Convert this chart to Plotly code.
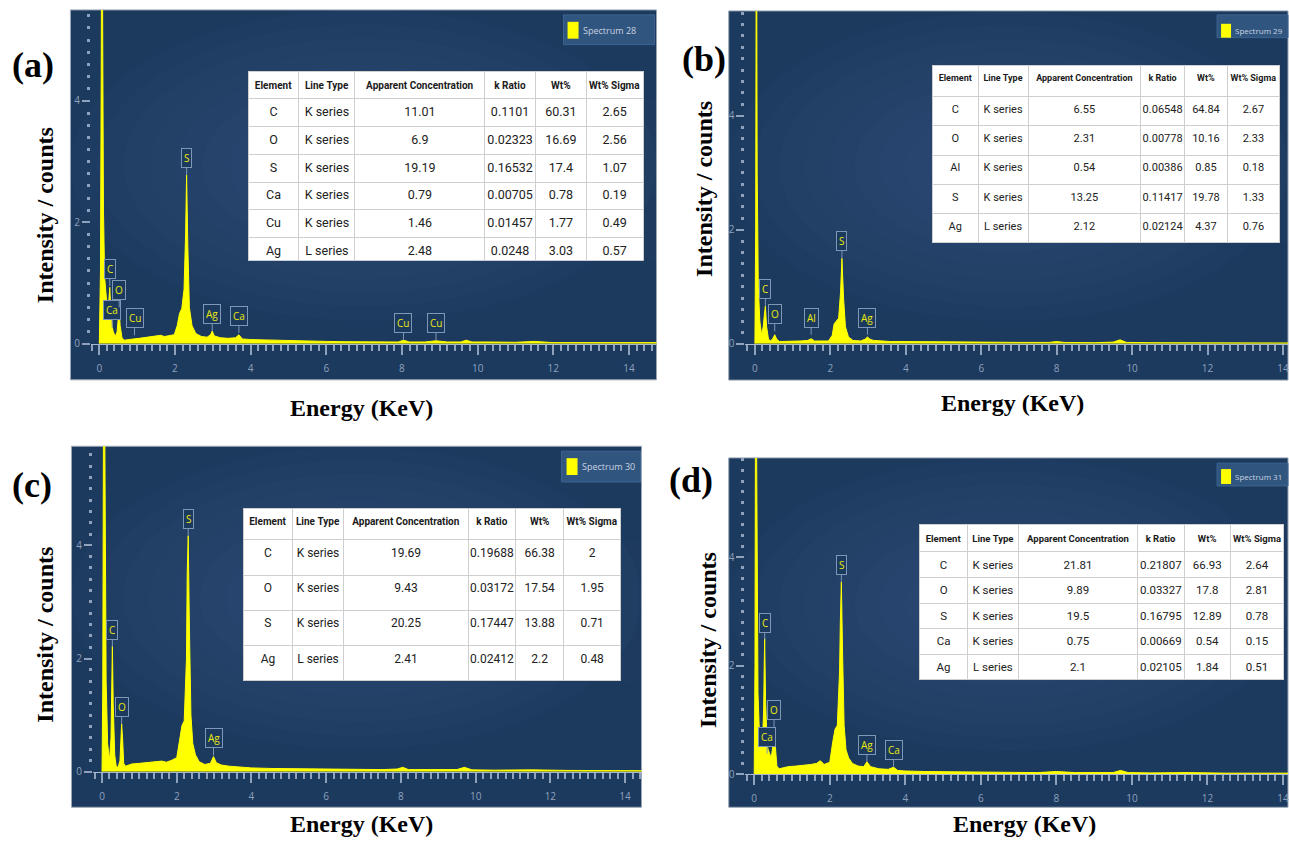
import plotly.graph_objects as go

W, H = 1289, 845

# ------------------------------------------------------------------ data
energy_a = [0.00, 0.03, 0.05, 0.07, 0.09, 0.11, 0.14, 0.18, 0.22, 0.25, 0.277, 0.30, 0.32, 0.341, 0.37, 0.42, 0.47, 0.50, 0.525, 0.55,
            0.60, 0.66, 0.75, 0.9, 1.05, 1.2, 1.35, 1.5, 1.62, 1.72, 1.85, 1.98, 2.06, 2.12, 2.18, 2.24, 2.28, 2.307, 2.34, 2.38,
            2.45, 2.55, 2.7, 2.85, 2.94, 2.984, 3.04, 3.2, 3.4, 3.6, 3.69, 3.78, 4.0, 4.5, 5.0, 5.5, 6.0, 6.5, 7.0, 7.5,
            7.9, 8.04, 8.2, 8.6, 8.9, 9.2, 9.55, 9.7, 9.85, 10.3, 11.0, 11.5, 12.0, 13.0, 14.0, 14.8]
counts_a = [0.0, 1.2, 4.5, 9.0, 5.0, 2.2, 1.1, 0.75, 0.5, 0.7, 0.93, 0.6, 0.3, 0.27, 0.2, 0.12, 0.2, 0.45, 0.6, 0.3,
            0.1, 0.06, 0.07, 0.08, 0.09, 0.1, 0.11, 0.13, 0.14, 0.12, 0.13, 0.15, 0.3, 0.5, 0.58, 0.9, 1.8, 2.78, 1.6, 0.6,
            0.3, 0.17, 0.12, 0.11, 0.15, 0.21, 0.13, 0.1, 0.09, 0.1, 0.15, 0.08, 0.07, 0.06, 0.05, 0.045, 0.04, 0.035, 0.03, 0.03,
            0.03, 0.06, 0.03, 0.03, 0.05, 0.03, 0.03, 0.06, 0.03, 0.03, 0.025, 0.04, 0.02, 0.02, 0.02, 0.02]

energy_b = [0.00, 0.02, 0.04, 0.06, 0.09, 0.13, 0.18, 0.22, 0.25, 0.277, 0.31, 0.36, 0.42, 0.48, 0.525, 0.58, 0.65, 0.8, 1.0, 1.2,
            1.4, 1.49, 1.58, 1.75, 1.95, 2.05, 2.1, 2.16, 2.22, 2.27, 2.307, 2.35, 2.4, 2.48, 2.6, 2.8, 2.92, 2.984, 3.05, 3.15,
            3.3, 3.6, 4.0, 4.5, 5.0, 6.0, 7.0, 7.8, 8.0, 8.2, 9.0, 9.5, 9.68, 9.85, 10.5, 11.5, 12.5, 14.2]
counts_b = [0.0, 2.0, 9.0, 3.0, 1.0, 0.4, 0.15, 0.3, 0.5, 0.66, 0.3, 0.08, 0.05, 0.1, 0.16, 0.08, 0.04, 0.04, 0.05, 0.05,
            0.06, 0.09, 0.05, 0.05, 0.05, 0.15, 0.35, 0.4, 0.45, 0.9, 1.5, 0.8, 0.3, 0.12, 0.06, 0.05, 0.08, 0.12, 0.08, 0.06,
            0.05, 0.04, 0.04, 0.035, 0.03, 0.03, 0.025, 0.025, 0.04, 0.025, 0.02, 0.03, 0.07, 0.025, 0.02, 0.02, 0.015, 0.015]

energy_c = [0.00, 0.02, 0.05, 0.08, 0.11, 0.15, 0.2, 0.24, 0.26, 0.277, 0.30, 0.34, 0.38, 0.43, 0.48, 0.51, 0.525, 0.55, 0.58, 0.63,
            0.7, 0.8, 1.0, 1.2, 1.4, 1.6, 1.72, 1.85, 2.0, 2.08, 2.14, 2.2, 2.26, 2.28, 2.307, 2.34, 2.38, 2.43, 2.5, 2.6,
            2.75, 2.9, 2.984, 3.06, 3.2, 3.4, 3.7, 4.0, 4.5, 5.0, 5.5, 6.0, 6.5, 7.0, 7.5, 7.9, 8.05, 8.2, 9.0, 9.5,
            9.7, 9.9, 10.5, 11.5, 12.5, 13.5, 14.6]
counts_c = [0.0, 1.5, 9.0, 5.0, 1.6, 0.5, 0.2, 0.6, 1.6, 2.22, 1.2, 0.3, 0.1, 0.08, 0.2, 0.5, 0.85, 0.6, 0.15, 0.1,
            0.12, 0.14, 0.15, 0.16, 0.17, 0.19, 0.17, 0.2, 0.25, 0.6, 0.82, 0.9, 2.0, 3.5, 4.17, 2.5, 1.0, 0.5, 0.3, 0.18,
            0.13, 0.15, 0.27, 0.16, 0.12, 0.1, 0.08, 0.07, 0.06, 0.055, 0.05, 0.045, 0.04, 0.04, 0.04, 0.05, 0.08, 0.04, 0.035, 0.04,
            0.08, 0.035, 0.03, 0.035, 0.025, 0.02, 0.02]

energy_d = [0.00, 0.02, 0.04, 0.07, 0.1, 0.14, 0.18, 0.22, 0.25, 0.265, 0.277, 0.30, 0.341, 0.37, 0.41, 0.45, 0.49, 0.51, 0.525, 0.55,
            0.6, 0.66, 0.75, 0.9, 1.1, 1.3, 1.5, 1.65, 1.75, 1.85, 2.0, 2.08, 2.14, 2.2, 2.26, 2.28, 2.307, 2.34, 2.38, 2.43,
            2.5, 2.6, 2.75, 2.9, 2.984, 3.08, 3.3, 3.55, 3.69, 3.8, 4.0, 4.5, 5.0, 5.5, 6.0, 6.5, 7.0, 7.5, 8.0, 8.5,
            9.0, 9.5, 9.7, 9.9, 10.5, 11.5, 12.5, 14.2]
counts_d = [0.0, 2.0, 9.0, 4.0, 1.5, 0.7, 0.55, 0.6, 1.2, 2.0, 2.5, 1.4, 0.55, 0.45, 0.35, 0.3, 0.5, 0.8, 0.86, 0.6,
            0.15, 0.1, 0.12, 0.14, 0.15, 0.16, 0.18, 0.2, 0.25, 0.18, 0.22, 0.6, 0.83, 0.9, 1.9, 2.8, 3.54, 2.2, 0.9, 0.45,
            0.3, 0.2, 0.15, 0.14, 0.23, 0.14, 0.1, 0.09, 0.13, 0.07, 0.06, 0.05, 0.045, 0.04, 0.04, 0.035, 0.03, 0.03, 0.05, 0.03,
            0.03, 0.03, 0.07, 0.03, 0.025, 0.03, 0.02, 0.02]

spectrum_names = ["Spectrum 28", "Spectrum 29", "Spectrum 30", "Spectrum 31"]
panel_letters = ["(a)", "(b)", "(c)", "(d)"]

# peak markers: element, energy (keV), intensity at marker tip
peak_el_a = ["C", "Ca", "O", "Cu", "S", "Ag", "Ca", "Cu", "Cu"]
peak_e_a = [0.277, 0.341, 0.525, 0.93, 2.307, 2.984, 3.69, 8.04, 8.9]
peak_i_a = [0.95, 0.27, 0.6, 0.14, 2.78, 0.21, 0.18, 0.06, 0.06]

peak_el_b = ["C", "O", "Al", "S", "Ag"]
peak_e_b = [0.277, 0.525, 1.49, 2.307, 2.984]
peak_i_b = [0.66, 0.22, 0.16, 1.5, 0.16]

peak_el_c = ["C", "O", "S", "Ag"]
peak_e_c = [0.277, 0.525, 2.307, 2.984]
peak_i_c = [2.21, 0.85, 4.17, 0.29]

peak_el_d = ["C", "Ca", "O", "S", "Ag", "Ca"]
peak_e_d = [0.277, 0.341, 0.525, 2.307, 2.984, 3.69]
peak_i_d = [2.48, 0.38, 0.87, 3.54, 0.23, 0.14]

table_header = ["Element", "Line Type", "Apparent Concentration", "k Ratio", "Wt%", "Wt% Sigma"]

elem_a = ["C", "O", "S", "Ca", "Cu", "Ag"]
line_a = ["K series", "K series", "K series", "K series", "K series", "L series"]
conc_a = ["11.01", "6.9", "19.19", "0.79", "1.46", "2.48"]
kratio_a = ["0.1101", "0.02323", "0.16532", "0.00705", "0.01457", "0.0248"]
wt_a = ["60.31", "16.69", "17.4", "0.78", "1.77", "3.03"]
sigma_a = ["2.65", "2.56", "1.07", "0.19", "0.49", "0.57"]

elem_b = ["C", "O", "Al", "S", "Ag"]
line_b = ["K series", "K series", "K series", "K series", "L series"]
conc_b = ["6.55", "2.31", "0.54", "13.25", "2.12"]
kratio_b = ["0.06548", "0.00778", "0.00386", "0.11417", "0.02124"]
wt_b = ["64.84", "10.16", "0.85", "19.78", "4.37"]
sigma_b = ["2.67", "2.33", "0.18", "1.33", "0.76"]

elem_c = ["C", "O", "S", "Ag"]
line_c = ["K series", "K series", "K series", "L series"]
conc_c = ["19.69", "9.43", "20.25", "2.41"]
kratio_c = ["0.19688", "0.03172", "0.17447", "0.02412"]
wt_c = ["66.38", "17.54", "13.88", "2.2"]
sigma_c = ["2", "1.95", "0.71", "0.48"]

elem_d = ["C", "O", "S", "Ca", "Ag"]
line_d = ["K series", "K series", "K series", "K series", "L series"]
conc_d = ["21.81", "9.89", "19.5", "0.75", "2.1"]
kratio_d = ["0.21807", "0.03327", "0.16795", "0.00669", "0.02105"]
wt_d = ["66.93", "17.8", "12.89", "0.54", "1.84"]
sigma_d = ["2.64", "2.81", "0.78", "0.15", "0.51"]

x_title = "Energy (KeV)"
y_title = "Intensity / counts"

# ------------------------------------------------------------------ layout geometry (pixels)
TABF = "Roboto, Liberation Sans, sans-serif"
SERIF = "Liberation Serif, Times New Roman, serif"
TICKF = "Open Sans, Noto Sans, sans-serif"

panels = [
    dict(energy=energy_a, counts=counts_a, el=peak_el_a, pe=peak_e_a, pi=peak_i_a,
         tab=[elem_a, line_a, conc_a, kratio_a, wt_a, sigma_a],
         rect=(70.5, 10, 657, 383), ylo=91, x0=99.4, ppk=37.86, y0=346.7, ppu=61.25,
         leg=(564, 15, 655, 45), sq=(568, 22, 579, 39), lfs=9,
         tcols=[248.3, 299.2, 355.4, 485.6, 536.4, 587.4, 644.4], ttop=72.3, th=20.4, rh=27.8,
         hfs=10, cfs=12.5, letter=(33, 66), ytl=(45, 217), xtl=(362, 411)),
    dict(energy=energy_b, counts=counts_b, el=peak_el_b, pe=peak_e_b, pi=peak_i_b,
         tab=[elem_b, line_b, conc_b, kratio_b, wt_b, sigma_b],
         rect=(729.3, 11, 1289, 383.3), ylo=746, x0=755.5, ppk=37.75, y0=346.7, ppu=57.5,
         leg=(1218, 15, 1289, 38), sq=(1222, 24, 1232, 38), lfs=8,
         tcols=[933, 979, 1029, 1142, 1186, 1229, 1281], ttop=65.7, th=31.6, rh=29.2,
         hfs=9, cfs=11, letter=(705, 59), ytl=(705, 190), xtl=(1013, 406)),
    dict(energy=energy_c, counts=counts_c, el=peak_el_c, pe=peak_e_c, pi=peak_i_c,
         tab=[elem_c, line_c, conc_c, kratio_c, wt_c, sigma_c],
         rect=(71.5, 450, 642, 814), ylo=93, x0=102.1, ppk=37.39, y0=778.3, ppu=57.1,
         leg=(562, 455, 641, 486), sq=(567, 462, 578, 479), lfs=9,
         tcols=[244, 292.3, 344.3, 468.7, 516.6, 564.4, 621.8], ttop=512.3, th=31.7, rh=35.3,
         hfs=10, cfs=12, letter=(32, 489), ytl=(45, 640), xtl=(362, 831)),
    dict(energy=energy_d, counts=counts_d, el=peak_el_d, pe=peak_e_d, pi=peak_i_d,
         tab=[elem_d, line_d, conc_d, kratio_d, wt_d, sigma_d],
         rect=(729.3, 461.7, 1289, 814), ylo=746, x0=754.8, ppk=37.8, y0=780.7, ppu=54.75,
         leg=(1218, 467, 1289, 490), sq=(1222, 473, 1232, 488), lfs=8,
         tcols=[920.5, 968.2, 1019.3, 1138.8, 1185.4, 1231.6, 1285.3], ttop=529.3, th=26.4, rh=25.6,
         hfs=9.5, cfs=11.5, letter=(692, 484), ytl=(708, 645), xtl=(1025, 831)),
]


def fx(p):
    return p / W


def fy(p):
    return 1 - p / H


NBSP = "\u00a0"

fig = go.Figure()
shapes, annotations = [], []
layout = dict(width=W, height=H, margin=dict(l=0, r=0, t=0, b=0),
              paper_bgcolor="white", plot_bgcolor="rgba(0,0,0,0)", showlegend=False)

TICKCOL = "#8ea2bd"
PANEL = "#1c395e"

for i, p in enumerate(panels):
    n = "" if i == 0 else str(i + 1)
    xref, yref = "x" + n, "y" + n
    l, t, r, b = p["rect"]

    # panel background (dark blue with soft lighter centre)
    shapes.append(dict(type="rect", xref="paper", yref="paper", x0=fx(l), x1=fx(r), y0=fy(b), y1=fy(t),
                       fillcolor=PANEL, line=dict(color="#9aa7b6", width=1), layer="below"))
    for k in range(10):
        s = 1 - k * 0.09
        cx, cy = (l + r) / 2, t + 0.42 * (b - t)
        hw, hh = (r - l) * 0.5 * s, (b - t) * 0.42 * s
        shapes.append(dict(type="circle", xref="paper", yref="paper", x0=fx(cx - hw), x1=fx(cx + hw),
                           y0=fy(cy + hh), y1=fy(cy - hh), fillcolor="#5b8cbd", opacity=0.03,
                           line=dict(width=0), layer="below"))

    xr = [(p["ylo"] - p["x0"]) / p["ppk"], (r - p["x0"]) / p["ppk"]]
    yr = [0, (p["y0"] - t) / p["ppu"]]
    layout["xaxis" + n] = dict(domain=[fx(p["ylo"]), fx(r)], range=xr, anchor=yref,
                               showgrid=False, zeroline=False, showline=True, linecolor="#a9b8ca", linewidth=1,
                               ticks="outside", ticklen=10, tickwidth=2, tickcolor=TICKCOL, dtick=2, tick0=0,
                               tickfont=dict(family=TICKF, size=10, color=TICKCOL), ticklabelstandoff=5,
                               ticklabeloverflow="allow",
                               minor=dict(dtick=0.2, ticks="outside", ticklen=6, tickwidth=1.5, tickcolor=TICKCOL,
                                          showgrid=False),
                               fixedrange=True)
    layout["yaxis" + n] = dict(domain=[fy(p["y0"]), fy(t)], range=yr, anchor=xref,
                               showgrid=False, zeroline=False, showline=False,
                               ticks="outside", ticklen=8, tickwidth=1.5, tickcolor=TICKCOL, dtick=2, tick0=0,
                               tickfont=dict(family=TICKF, size=10, color=TICKCOL),
                               minor=dict(dtick=0.2, ticks="outside", ticklen=3, tickwidth=3, tickcolor=TICKCOL,
                                          showgrid=False),
                               fixedrange=True)

    fig.add_trace(go.Scatter(x=p["energy"], y=p["counts"], mode="lines", fill="tozeroy",
                             line=dict(color="#ffff00", width=1), fillcolor="#ffff00",
                             name=spectrum_names[i], xaxis=xref, yaxis=yref))

    # spectrum key box (top right)
    lx0, ly0, lx1, ly1 = p["leg"]
    shapes.append(dict(type="rect", xref="paper", yref="paper", x0=fx(lx0), x1=fx(lx1), y0=fy(ly1), y1=fy(ly0),
                       fillcolor="#30557f", line=dict(color="#3d6590", width=1)))
    sx0, sy0, sx1, sy1 = p["sq"]
    shapes.append(dict(type="rect", xref="paper", yref="paper", x0=fx(sx0), x1=fx(sx1), y0=fy(sy1), y1=fy(sy0),
                       fillcolor="#ffff00", line=dict(width=0)))
    annotations.append(dict(x=fx(sx1 + 3), y=fy((sy0 + sy1) / 2), xref="paper", yref="paper",
                            text=spectrum_names[i], showarrow=False, xanchor="left", yanchor="middle",
                            borderpad=0,
                            font=dict(family=TICKF, size=p["lfs"], color="#c9d3e0")))

    # peak markers
    for el, e, v in zip(p["el"], p["pe"], p["pi"]):
        annotations.append(dict(x=e, y=v, xref=xref, yref=yref, text=el, showarrow=True, arrowhead=0,
                                arrowwidth=1, arrowcolor="#7f97b6", ax=0, ay=-17,
                                font=dict(family=TICKF, size=10, color="#eaea10"),
                                bgcolor=PANEL, bordercolor="#7f97b6", borderwidth=1, borderpad=2))

    # results table
    tc = p["tcols"]
    nrows = len(p["tab"][0])
    tbot = p["ttop"] + p["th"] + nrows * p["rh"]
    cells = [[v.replace(" ", NBSP) for v in col] for col in p["tab"]]
    fig.add_trace(go.Table(
        domain=dict(x=[fx(tc[0]), fx(tc[-1])], y=[fy(tbot + 4), fy(p["ttop"])]),
        columnwidth=[tc[j + 1] - tc[j] for j in range(6)],
        header=dict(values=["<b>%s</b>" % h.replace(" ", NBSP) for h in table_header], fill_color="white",
                    line=dict(color="#cfcfcf", width=1), align="center", height=p["th"],
                    font=dict(family=TABF, size=p["hfs"], color="#1a1a1a")),
        cells=dict(values=cells, fill_color="white", line=dict(color="#cfcfcf", width=1),
                   align="center", height=p["rh"], font=dict(family=TABF, size=p["cfs"], color="#222222"))))

    # panel letter and axis titles
    annotations.append(dict(x=fx(p["letter"][0]), y=fy(p["letter"][1]), xref="paper", yref="paper",
                            text="<b>%s</b>" % panel_letters[i], showarrow=False, xanchor="center", yanchor="middle",
                            font=dict(family=SERIF, size=36, color="black")))
    annotations.append(dict(x=fx(p["ytl"][0]), y=fy(p["ytl"][1]), xref="paper", yref="paper",
                            text="<b>%s</b>" % y_title, textangle=-90, showarrow=False,
                            xanchor="center", yanchor="middle", font=dict(family=SERIF, size=24, color="black")))
    annotations.append(dict(x=fx(p["xtl"][0]), y=fy(p["xtl"][1]), xref="paper", yref="paper",
                            text="<b>%s</b>" % x_title, showarrow=False,
                            xanchor="center", yanchor="middle", font=dict(family=SERIF, size=24, color="black")))

layout["shapes"] = shapes
layout["annotations"] = annotations
fig.update_layout(**layout)

fig.write_html("out.html", include_plotlyjs=True, full_html=True,
               config=dict(displayModeBar=False),
               post_script="document.body.style.margin='0';document.body.style.overflow='hidden';")
